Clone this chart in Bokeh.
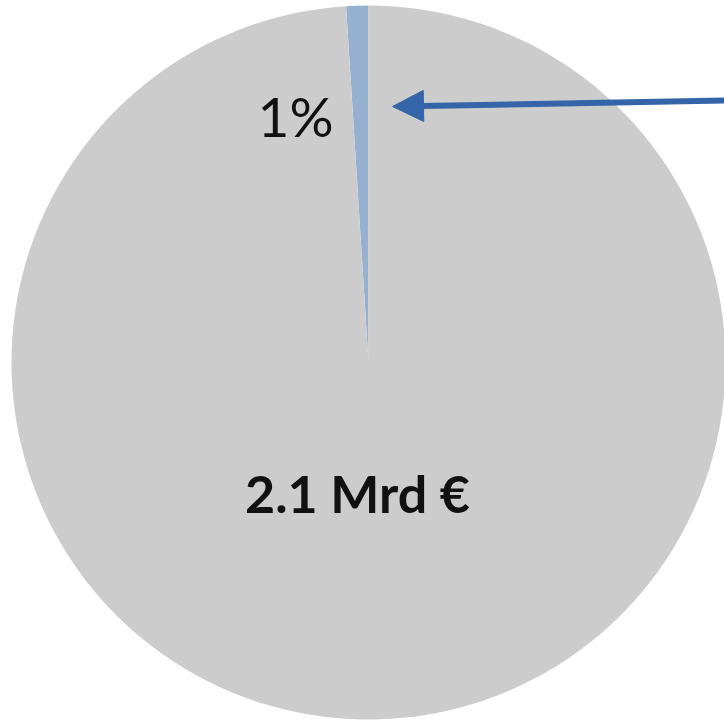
import numpy as np
from bokeh.plotting import figure
from bokeh.models import Range1d, Arrow, NormalHead, ColumnDataSource
from bokeh.core.properties import value
from bokeh.embed import file_html
from bokeh.resources import INLINE

# data
categories = ["Anteil", "Rest"]
shares = [1, 99]
colors = ["#95B1CF", "#CCCCCC"]
slice_labels = ["1%", "2.1 Mrd €"]

W, H = 724, 723
p = figure(width=W, height=H, output_backend="svg", toolbar_location=None,
           x_range=Range1d(0, W), y_range=Range1d(0, H), min_border=0)
p.axis.visible = False
p.grid.visible = False
p.outline_line_color = None
p.background_fill_color = "white"

cx, cy, r = 368, H - 362, 357
vals = np.array(shares, dtype=float)
frac = vals / vals.sum()
ends = np.pi / 2 + np.cumsum(frac) * 2 * np.pi
starts = ends - frac * 2 * np.pi
src = ColumnDataSource(dict(cat=categories, start=starts, end=ends, color=colors))
p.wedge(x=cx, y=cy, radius=r, start_angle="start", end_angle="end",
        fill_color="color", line_color=None, direction="anticlock", source=src)

# labels
p.text(x=[295], y=[H - 115], text=[slice_labels[0]], text_font=value("Lato"),
       text_font_size="55px", text_color="#111111",
       text_align="center", text_baseline="middle")
p.text(x=[357], y=[H - 492], text=[slice_labels[1]], text_font=value("Lato"),
       text_font_size="52px", text_font_style="bold", text_color="#111111",
       text_align="center", text_baseline="middle")

# arrow
p.add_layout(Arrow(x_start=730, y_start=H - 100, x_end=392, y_end=H - 106,
                   line_color="#3465A8", line_width=6,
                   end=NormalHead(size=31, fill_color="#3465A8", line_color="#3465A8", line_width=1)))

open("out.html", "w").write(file_html(p, INLINE))
